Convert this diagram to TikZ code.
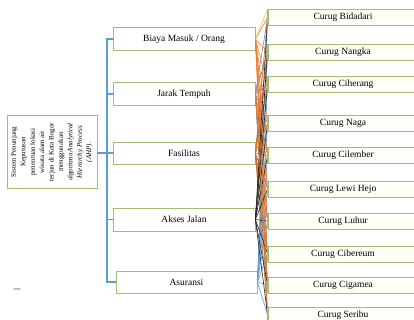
\documentclass[tikz,border=0pt]{standalone}
\usepackage{fontspec}
\setmainfont{Liberation Serif}
\definecolor{bord}{RGB}{160,190,120}
\definecolor{altfill}{RGB}{253,255,246}
\definecolor{trunkc}{RGB}{91,155,213}
\definecolor{lorange}{RGB}{237,125,49}
\definecolor{lbrown}{RGB}{197,100,30}
\definecolor{lgray}{RGB}{120,135,150}
\definecolor{lblack}{RGB}{35,35,35}
\definecolor{lblue}{RGB}{91,155,213}
\definecolor{lyellow}{RGB}{255,200,40}
\definecolor{dashc}{RGB}{110,110,110}
\begin{document}
\begin{tikzpicture}[x=1pt,y=-1pt,
  critbox/.style={draw=bord, line width=0.8pt, fill=white, minimum width=142pt, minimum height=23pt, inner sep=0pt, font=\fontsize{9.5}{11}\selectfont},
  altbox/.style={draw=bord, line width=0.8pt, fill=altfill, minimum width=150pt, minimum height=16pt, inner sep=0pt, font=\fontsize{9.5}{11}\selectfont},
  rootbox/.style={draw=bord, line width=0.8pt, fill=white, minimum width=90pt, minimum height=73pt, inner sep=0pt},
  trunkline/.style={draw=trunkc, line width=1.4pt},
  conn/.style={line width=0.6pt}]
\useasboundingbox (0,0) rectangle (414,320);
\clip (0,0) rectangle (414,320);

% root
\node[rootbox] (root) at (52,152) {};
\node[rotate=90, align=center, inner sep=0pt, font=\fontsize{7}{9.4}\selectfont] (roottxt) at (root.center)
 {Sistem Penunjang\\ Keputusan\\ penentuan lokasi\\ wisata alam air\\ terjun di Kota Bogor\\ menggunakan\\ algoritma \textit{Analytical}\\ \textit{Hierarchy Process}\\ \textit{(AHP)}.};

% criteria
\node[critbox] (c1) at (184,39) {Biaya Masuk / Orang};
\node[critbox] (c2) at (184,94) {Jarak Tempuh};
\node[critbox, minimum height=22pt] (c3) at (184,153) {Fasilitas};
\node[critbox] (c4) at (184,219.5) {Akses Jalan};
\node[critbox, minimum width=141pt, minimum height=22pt] (c5) at (186.5,282) {Asuransi};

% alternatives
\node[altbox] (a1) at (343,17.5) {Curug Bidadari};
\node[altbox] (a2) at (343,52) {Curug Nangka};
\node[altbox] (a3) at (343,84.5) {Curug Ciherang};
\node[altbox] (a4) at (343,123.5) {Curug Naga};
\node[altbox] (a5) at (343,155.5) {Curug Cilember};
\node[altbox] (a6) at (343,189) {Curug Lewi Hejo};
\node[altbox] (a7) at (343,221) {Curug Luhur};
\node[altbox] (a8) at (343,254) {Curug Cibereum};
\node[altbox] (a9) at (343,285) {Curug Cigamea};
\node[altbox] (a10) at (343,315) {Curug Seribu};

% trunk
\coordinate (tx) at (107,0);
\draw[trunkline] (c1.west) -- (c1.west -| tx) -- (c5.west -| tx) -- (c5.west);
\foreach \c in {c2,c3,c4} \draw[trunkline] (\c.west -| tx) -- (\c.west);
\draw[trunkline] (root.east |- c3.west) -- (c3.west -| tx);

% connectors
\foreach \c/\col in {c2/lgray, c5/lblue, c1/lorange, c3/lbrown, c4/lblack}
  \foreach \a in {1,...,10}
    \draw[conn, draw=\col] (\c.east) -- (a\a.west);
\draw[conn, draw=lyellow] (c1.east) -- (a1.north west);
\foreach \a in {3,5,7,9}
  \draw[conn, draw=lorange] (c2.east) -- (a\a.west);

% left borders of alternative boxes on top
\foreach \a in {1,...,10} \draw[draw=bord, line width=0.8pt] (a\a.north west) -- (a\a.south west);

\node[text=dashc, inner sep=0pt, font=\fontsize{13}{13}\selectfont\bfseries] (dash) at (17,291) {–};
\end{tikzpicture}
\end{document}
